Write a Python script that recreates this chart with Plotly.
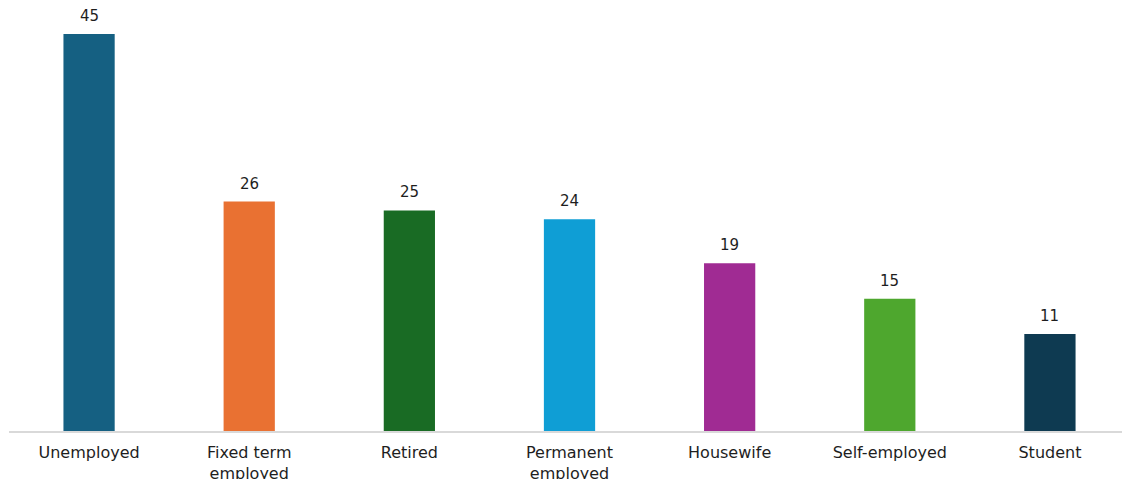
import plotly.graph_objects as go

categories = ["Unemployed", "Fixed term<br>employed", "Retired", "Permanent<br>employed",
              "Housewife", "Self-employed", "Student"]
values = [45, 26, 25, 24, 19, 15, 11]
bar_colors = ["#156082", "#E97132", "#196B24", "#0F9ED5", "#A02B93", "#4EA72E", "#0E3A51"]

font_family = "DejaVu Sans"
text_color = "#1E1E1E"
positions = list(range(len(categories)))

fig = go.Figure(
    go.Bar(
        x=positions,
        y=values,
        marker=dict(color=bar_colors, line=dict(width=0)),
        width=0.32,
        hoverinfo="skip",
    )
)

# value labels above each bar
for x, v in zip(positions, values):
    fig.add_annotation(
        x=x, y=v, text=str(v), showarrow=False,
        xanchor="center", yanchor="bottom", yshift=7,
        font=dict(family=font_family, size=15, color=text_color),
    )

fig.update_layout(
    width=1122,
    height=479,
    margin=dict(l=9, r=0, t=0, b=48),
    paper_bgcolor="white",
    plot_bgcolor="white",
    showlegend=False,
    xaxis=dict(
        range=[-0.5, 6.45],
        tickmode="array",
        tickvals=positions,
        ticktext=categories,
        tickfont=dict(family=font_family, size=16, color=text_color),
        ticklabelstandoff=6,
        automargin=False,
        showgrid=False,
        zeroline=False,
        showline=True,
        linecolor="#D9D9D9",
        linewidth=2,
        ticks="",
    ),
    yaxis=dict(
        range=[0, 48.85],
        automargin=False,
        showgrid=False,
        zeroline=False,
        showticklabels=False,
        showline=False,
    ),
)

fig.write_html("out.html")
